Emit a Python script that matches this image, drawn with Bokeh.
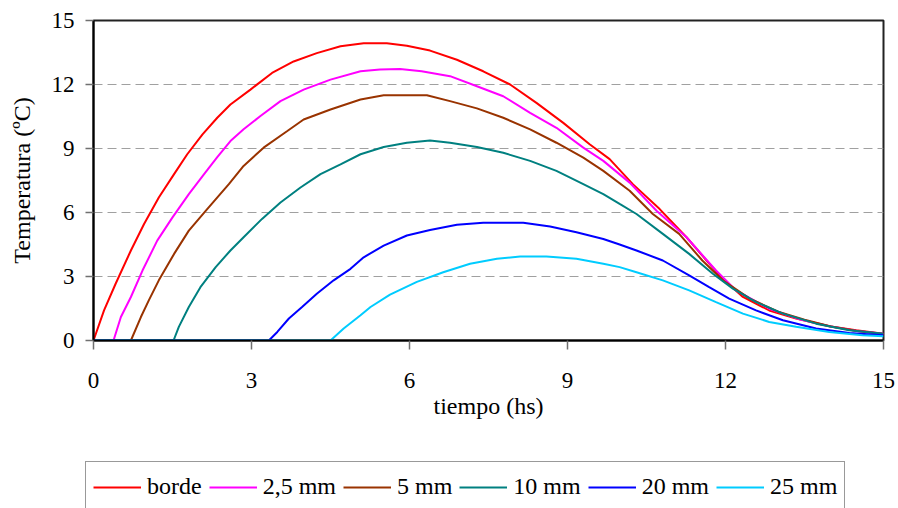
from bokeh.plotting import figure
from bokeh.models import Range1d, FixedTicker, Legend, LegendItem
from bokeh.layouts import column, row
from bokeh.embed import file_html
from bokeh.resources import INLINE

# ---- data ----
t_borde = [0, 0.2, 0.42, 0.71, 0.96, 1.24, 1.53, 1.78, 2.07, 2.35, 2.6, 2.98, 3.39, 3.8, 4.24, 4.69,
           5.13, 5.57, 5.95, 6.39, 6.9, 7.4, 7.91, 8.41, 8.92, 9.42, 9.8, 10.24, 10.75, 11.26, 11.64,
           11.95, 12.33, 12.83, 13.34, 13.97, 14.48, 15]
T_borde = [0, 1.41, 2.66, 4.22, 5.46, 6.7, 7.8, 8.73, 9.66, 10.44, 11.06, 11.76, 12.54, 13.08, 13.47, 13.79,
           13.93, 13.93, 13.82, 13.59, 13.16, 12.62, 12.0, 11.14, 10.2, 9.2, 8.5, 7.33, 6.16, 4.84, 3.75,
           2.89, 2.04, 1.41, 1.03, 0.67, 0.48, 0.32]

t_25 = [0, 0.38, 0.52, 0.71, 0.93, 1.21, 1.5, 1.81, 2.1, 2.35, 2.6, 2.85, 3.17, 3.55, 3.99, 4.5, 5.07,
        5.44, 5.82, 6.23, 6.77, 7.28, 7.78, 8.29, 8.79, 9.3, 9.68, 10.18, 10.69, 11.26, 11.82, 12.2,
        12.83, 13.4, 14.0, 14.5, 15]
T_25 = [0, 0, 1.1, 2.04, 3.28, 4.68, 5.77, 6.86, 7.8, 8.6, 9.35, 9.9, 10.52, 11.22, 11.76, 12.23, 12.62,
        12.7, 12.73, 12.62, 12.39, 11.92, 11.45, 10.67, 9.97, 9.04, 8.42, 7.4, 6.08, 4.84, 3.28, 2.35,
        1.49, 1.0, 0.66, 0.45, 0.32]

t_5 = [0, 0.71, 0.9, 1.05, 1.24, 1.53, 1.81, 2.13, 2.57, 2.85, 3.23, 3.68, 3.99, 4.5, 5.07, 5.51, 6.33,
       6.77, 7.28, 7.78, 8.29, 8.79, 9.3, 9.68, 10.18, 10.62, 11.12, 11.56, 11.95, 12.46, 13.0, 13.5,
       14.0, 14.5, 15]
T_5 = [0, 0, 1.1, 1.88, 2.82, 4.06, 5.15, 6.08, 7.33, 8.18, 9.04, 9.82, 10.36, 10.83, 11.3, 11.5, 11.5,
       11.22, 10.88, 10.44, 9.9, 9.27, 8.57, 7.95, 7.02, 5.93, 5.0, 3.75, 2.82, 1.96, 1.35, 0.98,
       0.66, 0.45, 0.3]

t_10 = [0, 1.52, 1.62, 1.81, 2.03, 2.32, 2.6, 2.85, 3.2, 3.55, 3.93, 4.31, 4.69, 5.07, 5.51, 5.95, 6.39,
        6.77, 7.28, 7.78, 8.29, 8.79, 9.3, 9.68, 9.99, 10.31, 10.81, 11.31, 11.76, 12.14, 12.58, 13.09,
        13.72, 14.35, 15]
T_10 = [0, 0, 0.64, 1.57, 2.5, 3.44, 4.22, 4.84, 5.7, 6.47, 7.17, 7.8, 8.26, 8.73, 9.07, 9.27, 9.38,
        9.27, 9.07, 8.8, 8.42, 7.95, 7.33, 6.86, 6.4, 5.93, 5.0, 4.06, 3.13, 2.43, 1.8, 1.26,
        0.79, 0.48, 0.32]

t_20 = [0, 3.33, 3.49, 3.71, 3.96, 4.24, 4.56, 4.88, 5.13, 5.51, 5.95, 6.39, 6.9, 7.4, 8.16, 8.67, 9.17,
        9.68, 9.99, 10.31, 10.81, 11.31, 11.69, 12.07, 12.58, 13.09, 13.72, 14.35, 15]
T_20 = [0, 0, 0.4, 1.03, 1.57, 2.19, 2.82, 3.36, 3.9, 4.45, 4.92, 5.18, 5.43, 5.52, 5.52, 5.34, 5.07,
        4.76, 4.5, 4.22, 3.75, 3.05, 2.5, 1.96, 1.41, 0.95, 0.56, 0.35, 0.25]

t_25mm = [0, 4.5, 4.75, 5.07, 5.26, 5.63, 6.14, 6.64, 7.15, 7.66, 8.1, 8.6, 9.17, 9.68, 9.99, 10.31,
          10.81, 11.31, 11.82, 12.33, 12.83, 13.34, 13.97, 14.6, 15]
T_25mm = [0, 0, 0.56, 1.18, 1.57, 2.15, 2.75, 3.2, 3.6, 3.83, 3.94, 3.94, 3.83, 3.6, 3.44, 3.2,
          2.82, 2.35, 1.8, 1.26, 0.87, 0.64, 0.4, 0.25, 0.2]

labels = ["borde", "2,5 mm", "5 mm", "10 mm", "20 mm", "25 mm"]
colors = ["#FF0000", "#FF00FF", "#993300", "#008080", "#0000FF", "#00CCFF"]
series_t = [t_borde, t_25, t_5, t_10, t_20, t_25mm]
series_T = [T_borde, T_25, T_5, T_10, T_20, T_25mm]
ticks = [0, 3, 6, 9, 12, 15]

SERIF = "Liberation Serif"

p = figure(width=898, height=460, output_backend="svg", toolbar_location=None,
           x_range=Range1d(0, 15), y_range=Range1d(0, 15),
           min_border_left=93, min_border_right=15, min_border_top=20, min_border_bottom=120)
p.background_fill_color = "white"
p.border_fill_color = "white"
p.outline_line_color = "#222222"
p.outline_line_width = 2

for tt, TT, c in zip(series_t, series_T, colors):
    p.line(tt, TT, line_color=c, line_width=2)

for ax in (p.xaxis[0], p.yaxis[0]):
    ax.ticker = FixedTicker(ticks=ticks)
    ax.minor_tick_line_color = None
    ax.major_tick_in = 0
    ax.major_tick_line_color = "#707070"
    ax.major_tick_line_width = 1.5
    ax.axis_line_color = "black"
    ax.axis_line_width = 2
    ax.major_label_text_font = SERIF
    ax.major_label_text_font_size = "23px"
    ax.major_label_text_color = "black"
    ax.axis_label_text_font = SERIF
    ax.axis_label_text_font_size = "24px"
    ax.axis_label_text_font_style = "normal"
    ax.axis_label_text_color = "black"

p.xaxis.major_tick_out = 9
p.yaxis.major_tick_out = 8
p.xaxis.major_label_standoff = 23
p.yaxis.major_label_standoff = 11
p.xaxis.axis_label = "tiempo (hs)"
p.yaxis.axis_label = "Temperatura (ºC)"
p.xaxis.axis_label_standoff = 2
p.yaxis.axis_label_standoff = 14

p.xgrid.grid_line_color = None
p.ygrid.ticker = FixedTicker(ticks=[3, 6, 9, 12])
p.ygrid.grid_line_color = "#A0A0A0"
p.ygrid.grid_line_dash = "9 5"
p.ygrid.grid_line_width = 1

# ---- legend strip (separate figure below the chart; its own view shows no data) ----
p2 = figure(width=898, height=48, output_backend="svg", toolbar_location=None,
            x_range=Range1d(100, 101), y_range=Range1d(100, 101),
            x_axis_location=None, y_axis_location=None,
            min_border=0, min_border_left=0, min_border_right=0, min_border_top=0, min_border_bottom=0)
p2.outline_line_color = None
p2.background_fill_color = "white"
p2.border_fill_color = "white"
p2.xgrid.visible = False
p2.ygrid.visible = False

items = []
for l, c, tt, TT in zip(labels, colors, series_t, series_T):
    r = p2.line(tt, TT, line_color=c, line_width=2)
    items.append(LegendItem(label=l, renderers=[r]))

legend = Legend(items=items, orientation="horizontal", location=(85, -4.7),
                label_text_font=SERIF, label_text_font_size="24px", label_text_color="black",
                glyph_width=48, glyph_height=36, label_standoff=6, spacing=7, padding=7, margin=0,
                border_line_color="#333333", border_line_width=1,
                background_fill_color="white", background_fill_alpha=1.0)
p2.add_layout(legend)

layout = column(p, row(p2, spacing=0), spacing=0)
open("out.html", "w").write(file_html(layout, INLINE))
